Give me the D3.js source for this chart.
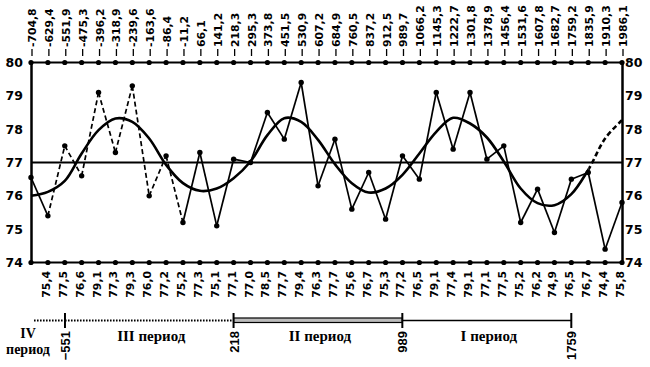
<!DOCTYPE html>
<html><head><meta charset="utf-8">
<script src="https://cdn.jsdelivr.net/npm/d3@7"></script>
<style>body{margin:0;background:#fff}</style>
</head><body><svg id="c" width="650" height="367"></svg>
<script>
const years = [-704.8, -629.4, -551.9, -475.3, -396.2, -318.9, -239.6, -163.6, -86.4, -11.2, 66.1, 141.2, 218.3, 295.3, 373.8, 451.5, 530.9, 607.2, 684.9, 760.5, 837.2, 912.5, 989.7, 1066.2, 1145.3, 1222.7, 1301.8, 1378.9, 1456.4, 1531.6, 1607.8, 1682.7, 1759.2, 1835.9, 1910.3, 1986.1];
const values = [76.55, 75.4, 77.5, 76.6, 79.1, 77.3, 79.3, 76.0, 77.2, 75.2, 77.3, 75.1, 77.1, 77.0, 78.5, 77.7, 79.4, 76.3, 77.7, 75.6, 76.7, 75.3, 77.2, 76.5, 79.1, 77.4, 79.1, 77.1, 77.5, 75.2, 76.2, 74.9, 76.5, 76.7, 74.4, 75.8];
const trend = [76.0, 76.12, 76.45, 77.27, 77.97, 78.32, 78.22, 77.72, 76.93, 76.38, 76.15, 76.22, 76.53, 77.03, 77.82, 78.33, 78.22, 77.68, 76.95, 76.38, 76.1, 76.22, 76.63, 77.27, 77.92, 78.34, 78.17, 77.75, 77.03, 76.22, 75.78, 75.72, 76.05, 76.78, 77.72, 78.27];
const yTicks = [74, 75, 76, 77, 78, 79, 80];
const meanLevel = 77;
const dashedDataRange = [1, 9];   // data segments drawn dashed (index range)
const trendDashFrom = 33;          // trend drawn dashed from this index
const labelFrom = 1;               // first value without label
const periodBounds = [-551, 218, 989, 1759];
const periodNames = ["III период", "II период", "I период"];
const periodStyles = ["dotted", "double", "solid"];

const svg = d3.select("#c");
const W = 650, H = 367;
const pLeft = 31, pRight = 622, pTop = 62.5, pBottom = 262.5;

const xi = d3.scalePoint().domain(d3.range(years.length)).range([pLeft, pRight]);
const xYear = d3.scaleLinear().domain(years).range(years.map((d, i) => xi(i)));
const y = d3.scaleLinear().domain([74, 80]).range([pBottom, pTop]);
const fmt = v => v.toFixed(1).replace(".", ",");
const num = "DejaVu Sans, sans-serif";

svg.append("rect").attr("width", W).attr("height", H).attr("fill", "#fff");

// mean line
svg.append("line").attr("x1", pLeft).attr("x2", pRight)
  .attr("y1", y(meanLevel)).attr("y2", y(meanLevel))
  .attr("stroke", "#000").attr("stroke-width", 2);

// top and bottom ruler lines with dots
[80, 74].forEach(v => {
  svg.append("line").attr("x1", pLeft).attr("x2", pRight)
    .attr("y1", y(v)).attr("y2", y(v)).attr("stroke", "#000").attr("stroke-width", 2);
  svg.append("g").selectAll("circle").data(years).join("circle")
    .attr("cx", (d, i) => xi(i)).attr("cy", y(v)).attr("r", 2.6).attr("fill", "#000");
});

// top ticks
svg.append("g").selectAll("line").data(years).join("line")
  .attr("x1", (d, i) => xi(i) + 1).attr("x2", (d, i) => xi(i) + 1)
  .attr("y1", 49).attr("y2", 56).attr("stroke", "#000").attr("stroke-width", 1.3);

// axes
const axL = svg.append("g").attr("transform", `translate(${pLeft},0)`)
  .call(d3.axisLeft(y).tickValues(yTicks).tickSize(0).tickPadding(8).tickFormat(d3.format("d")));
const axR = svg.append("g").attr("transform", `translate(${pRight},0)`)
  .call(d3.axisRight(y).tickValues(yTicks).tickSize(0).tickPadding(3).tickFormat(d3.format("d")));
[axL, axR].forEach(a => {
  a.select(".domain").attr("stroke", "#000").attr("stroke-width", 2.5);
  a.selectAll("text").attr("font-family", num).attr("font-weight", "bold")
    .attr("font-size", 12.5).attr("fill", "#000");
});

// trend curve
const line = d3.line().x(d => xi(d.i)).y(d => y(d.v)).curve(d3.curveCatmullRom.alpha(0.5));
const tr = trend.map((v, i) => ({i, v}));
svg.append("clipPath").attr("id", "clipA").append("rect")
  .attr("x", 0).attr("y", 0).attr("width", xi(trendDashFrom)).attr("height", H);
svg.append("clipPath").attr("id", "clipT").append("rect")
  .attr("x", xi(trendDashFrom)).attr("y", 0).attr("width", W).attr("height", H);
svg.append("path").datum(tr).attr("d", line).attr("clip-path", "url(#clipA)")
  .attr("fill", "none").attr("stroke", "#000").attr("stroke-width", 2.6);
svg.append("path").datum(tr).attr("d", line).attr("clip-path", "url(#clipT)")
  .attr("fill", "none").attr("stroke", "#000").attr("stroke-width", 2.6)
  .attr("stroke-dasharray", "5,3");

// data polyline segments
const segs = d3.range(values.length - 1).map(i => ({i,
  dashed: i >= dashedDataRange[0] && i < dashedDataRange[1]}));
svg.append("g").selectAll("line").data(segs).join("line")
  .attr("x1", d => xi(d.i)).attr("y1", d => y(values[d.i]))
  .attr("x2", d => xi(d.i + 1)).attr("y2", d => y(values[d.i + 1]))
  .attr("stroke", "#000").attr("stroke-width", 1.7)
  .attr("stroke-dasharray", d => d.dashed ? "5,3" : null);
svg.append("g").selectAll("circle").data(values).join("circle")
  .attr("cx", (d, i) => xi(i)).attr("cy", d => y(d)).attr("r", 2.7).attr("fill", "#000");

// top labels (years)
svg.append("g").selectAll("text").data(years).join("text")
  .attr("transform", (d, i) => `translate(${xi(i) + 5},47) rotate(-90)`)
  .attr("text-anchor", "start").attr("font-family", num).attr("font-weight", "bold")
  .attr("font-size", 10.8).text(d => fmt(d));

// bottom labels (values)
svg.append("g").selectAll("text").data(values.slice(labelFrom)).join("text")
  .attr("transform", (d, i) => `translate(${xi(i + labelFrom) + 2},271) rotate(-90)`)
  .attr("text-anchor", "end").attr("font-family", num).attr("font-weight", "bold")
  .attr("font-size", 10.8).text(d => fmt(d));

// period bar
const py = 320.5;
const g = svg.append("g");
// IV period (before first bound)
g.append("line").attr("x1", xYear(years[0]) + 3).attr("x2", xYear(periodBounds[0]))
  .attr("y1", py).attr("y2", py).attr("stroke", "#000").attr("stroke-width", 2)
  .attr("stroke-dasharray", "1.6,1.4");
periodStyles.forEach((s, k) => {
  const x1 = xYear(periodBounds[k]), x2 = xYear(periodBounds[k + 1]);
  if (s === "dotted") {
    g.append("line").attr("x1", x1).attr("x2", x2).attr("y1", py).attr("y2", py)
      .attr("stroke", "#000").attr("stroke-width", 2).attr("stroke-dasharray", "1.6,1.4");
  } else if (s === "double") {
    g.append("rect").attr("x", x1).attr("y", py - 2.5).attr("width", x2 - x1).attr("height", 4.5)
      .attr("fill", "#bbb").attr("stroke", "#000").attr("stroke-width", 1.2);
  } else {
    g.append("line").attr("x1", x1).attr("x2", x2).attr("y1", py).attr("y2", py)
      .attr("stroke", "#000").attr("stroke-width", 1.6);
  }
  g.append("text").attr("x", (x1 + x2) / 2 + 2).attr("y", 341)
    .attr("text-anchor", "middle").attr("font-family", "Liberation Serif, serif")
    .attr("font-weight", "bold").attr("font-size", 15).text(periodNames[k]);
});
periodBounds.forEach(b => {
  const x = xYear(b);
  g.append("line").attr("x1", x).attr("x2", x).attr("y1", 313).attr("y2", 328)
    .attr("stroke", "#000").attr("stroke-width", 2);
  g.append("text").attr("transform", `translate(${x + 5},331) rotate(-90)`)
    .attr("text-anchor", "end").attr("font-family", "Liberation Sans, Arial, sans-serif")
    .attr("font-weight", "bold").attr("font-size", 13)
    .text(b < 0 ? "−" + Math.abs(b) : String(b));
});
const ivx = xYear(years[0]) - 3;
g.append("text").attr("x", ivx).attr("y", 338).attr("text-anchor", "middle")
  .attr("font-family", "Liberation Serif, serif").attr("font-weight", "bold")
  .attr("font-size", 14).text("IV");
g.append("text").attr("x", ivx).attr("y", 354).attr("text-anchor", "middle")
  .attr("font-family", "Liberation Serif, serif").attr("font-weight", "bold")
  .attr("font-size", 14).text("период");
</script></body></html>
